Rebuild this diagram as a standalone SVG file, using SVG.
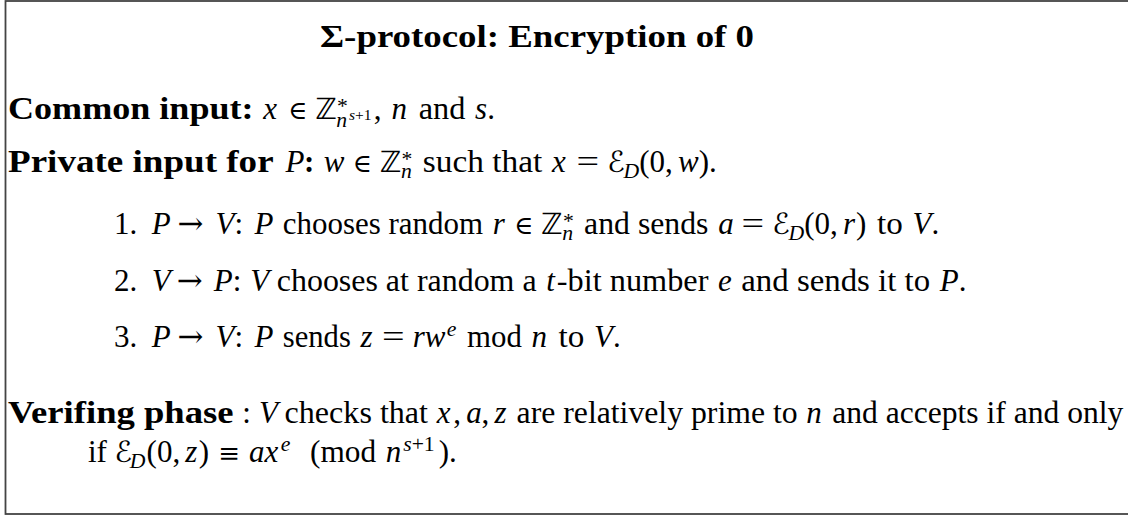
<svg xmlns="http://www.w3.org/2000/svg" width="1128" height="516" viewBox="0 0 1128 516">
<style>
.t{font-family:"Liberation Serif","Times New Roman",serif;font-size:31px;fill:#000}
.b{font-weight:bold}
.i{font-style:italic}
.sym{font-family:"DejaVu Serif","DejaVu Sans",serif;font-size:26px;font-style:normal}
.arr{font-family:"DejaVu Serif","DejaVu Sans",serif;font-size:31px;font-style:normal}
.bb{font-family:"DejaVu Sans","DejaVu Serif",sans-serif;font-size:29px;font-style:normal}
.cal{font-family:"DejaVu Serif","DejaVu Sans",serif;font-size:29px;font-style:italic}
.sub{font-size:21.7px}
.ss{font-size:15.5px}
.frame{fill:none;stroke:#444;stroke-width:1.8}
</style>
<g id="frame"><rect class="frame" x="5.5" y="1" width="1140" height="513"/></g>

<g id="title"><text class="t b" x="320" y="47" textLength="434" lengthAdjust="spacingAndGlyphs">Σ-protocol: Encryption of 0</text></g>

<g id="common-input">
<text class="t" y="119">
<tspan class="b" x="8" textLength="245.6" lengthAdjust="spacingAndGlyphs">Common input:</tspan>
<tspan class="i" x="263.3">x</tspan>
<tspan class="sym" x="288">∈</tspan>
<tspan class="bb" x="315.4">ℤ</tspan>
<tspan class="sub" x="337" y="113">*</tspan>
<tspan class="sub i" x="336.3" y="127">n</tspan>
<tspan class="ss i" x="349" y="120">s</tspan><tspan class="ss">+1</tspan>
<tspan x="373.8" y="119">,</tspan>
<tspan class="i" x="391.6">n</tspan>
<tspan x="418.7" textLength="46.7" lengthAdjust="spacingAndGlyphs">and</tspan>
<tspan class="i" x="475.1">s</tspan><tspan>.</tspan>
</text>
</g>

<g id="private-input">
<text class="t" y="172">
<tspan class="b" x="8" textLength="265.6" lengthAdjust="spacingAndGlyphs">Private input for</tspan>
<tspan class="i" x="285.5">P</tspan>
<tspan class="b" x="304.1">:</tspan>
<tspan class="i" x="323.7">w</tspan>
<tspan class="sym" x="352.6">∈</tspan>
<tspan class="bb" x="380">ℤ</tspan>
<tspan class="sub" x="401.6" y="166">*</tspan>
<tspan class="sub i" x="400.9" y="178">n</tspan>
<tspan x="422.8" y="172" textLength="119.4" lengthAdjust="spacingAndGlyphs">such that</tspan>
<tspan class="i" x="551.9">x</tspan>
<tspan x="576.6" textLength="22.6" lengthAdjust="spacingAndGlyphs">=</tspan>
<tspan class="cal" x="607.3">ℰ</tspan>
<tspan class="sub i" x="623.5" y="178">D</tspan>
<tspan x="639.3" y="172">(0,</tspan>
<tspan class="i" x="678">w</tspan>
<tspan x="698.8">).</tspan>
</text>
</g>

<g id="step-1">
<text class="t" y="234">
<tspan x="114">1.</tspan>
<tspan class="i" x="151.7">P</tspan>
<tspan class="arr" x="177.4">→</tspan>
<tspan class="i" x="215.5">V</tspan><tspan>:</tspan>
<tspan class="i" x="254.5">P</tspan>
<tspan x="282.8" textLength="200.2" lengthAdjust="spacingAndGlyphs">chooses random</tspan>
<tspan class="i" x="492.7">r</tspan>
<tspan class="sym" x="513.9">∈</tspan>
<tspan class="bb" x="541.3">ℤ</tspan>
<tspan class="sub" x="563" y="228">*</tspan>
<tspan class="sub i" x="562.2" y="240">n</tspan>
<tspan x="584.1" y="234" textLength="124.4" lengthAdjust="spacingAndGlyphs">and sends</tspan>
<tspan class="i" x="718.2">a</tspan>
<tspan x="741.6" textLength="22.6" lengthAdjust="spacingAndGlyphs">=</tspan>
<tspan class="cal" x="772.3">ℰ</tspan>
<tspan class="sub i" x="788.5" y="240">D</tspan>
<tspan x="804.3" y="234">(0,</tspan>
<tspan class="i" x="843">r</tspan>
<tspan x="856.1">)</tspan>
<tspan x="877.1" textLength="25.8" lengthAdjust="spacingAndGlyphs">to</tspan>
<tspan class="i" x="912.6">V</tspan><tspan>.</tspan>
</text>
</g>

<g id="step-2">
<text class="t" y="291">
<tspan x="114">2.</tspan>
<tspan class="i" x="151.7">V</tspan>
<tspan class="arr" x="176.7">→</tspan>
<tspan class="i" x="213.8">P</tspan><tspan>:</tspan>
<tspan class="i" x="250.2">V</tspan>
<tspan x="276.8" textLength="259.8" lengthAdjust="spacingAndGlyphs">chooses at random a</tspan>
<tspan class="i" x="546.3">t</tspan>
<tspan x="556.8" textLength="151.6" lengthAdjust="spacingAndGlyphs">-bit number</tspan>
<tspan class="i" x="718.1">e</tspan>
<tspan x="741.3" textLength="188.8" lengthAdjust="spacingAndGlyphs">and sends it to</tspan>
<tspan class="i" x="939.8">P</tspan><tspan>.</tspan>
</text>
</g>

<g id="step-3">
<text class="t" y="347">
<tspan x="114">3.</tspan>
<tspan class="i" x="151.7">P</tspan>
<tspan class="arr" x="177.4">→</tspan>
<tspan class="i" x="215.5">V</tspan><tspan>:</tspan>
<tspan class="i" x="254.5">P</tspan>
<tspan x="282.8" textLength="68" lengthAdjust="spacingAndGlyphs">sends</tspan>
<tspan class="i" x="360.5">z</tspan>
<tspan x="382.1" textLength="22.6" lengthAdjust="spacingAndGlyphs">=</tspan>
<tspan class="i" x="412.8">rw</tspan>
<tspan class="sub i" x="446.7" y="336">e</tspan>
<tspan x="467" y="347" textLength="54.8" lengthAdjust="spacingAndGlyphs">mod</tspan>
<tspan class="i" x="531.5">n</tspan>
<tspan x="558.6" textLength="25.8" lengthAdjust="spacingAndGlyphs">to</tspan>
<tspan class="i" x="594.1">V</tspan><tspan>.</tspan>
</text>
</g>

<g id="verifying-phase">
<text class="t" y="423">
<tspan class="b" x="8" textLength="225.5" lengthAdjust="spacingAndGlyphs">Verifing phase</tspan>
<tspan x="242.2">:</tspan>
<tspan class="i" x="259">V</tspan>
<tspan x="284.6" textLength="143.4" lengthAdjust="spacingAndGlyphs">checks that</tspan>
<tspan class="i" x="436.7">x</tspan><tspan x="453.3">,</tspan>
<tspan class="i" x="466.2">a</tspan><tspan x="481.5">,</tspan>
<tspan class="i" x="494.4">z</tspan>
<tspan x="516.6" textLength="281" lengthAdjust="spacingAndGlyphs">are relatively prime to</tspan>
<tspan class="i" x="806.2">n</tspan>
<tspan x="832.3" textLength="291" lengthAdjust="spacingAndGlyphs">and accepts if and only</tspan>
</text>
<text class="t" y="462">
<tspan x="88">if</tspan>
<tspan class="cal" x="114.6">ℰ</tspan>
<tspan class="sub i" x="129.8" y="468">D</tspan>
<tspan x="146.6" y="462">(0,</tspan>
<tspan class="i" x="185.3">z</tspan>
<tspan x="198.8">)</tspan>
<tspan class="sym" x="218.2">≡</tspan>
<tspan class="i" x="248.9">ax</tspan>
<tspan class="sub i" x="280.8" y="451">e</tspan>
<tspan x="310" y="462" textLength="66.1" lengthAdjust="spacingAndGlyphs">(mod</tspan>
<tspan class="i" x="385.8">n</tspan>
<tspan class="sub i" x="403.2" y="451">s</tspan><tspan class="sub">+1</tspan>
<tspan x="438.7" y="462">).</tspan>
</text>
</g>
</svg>
